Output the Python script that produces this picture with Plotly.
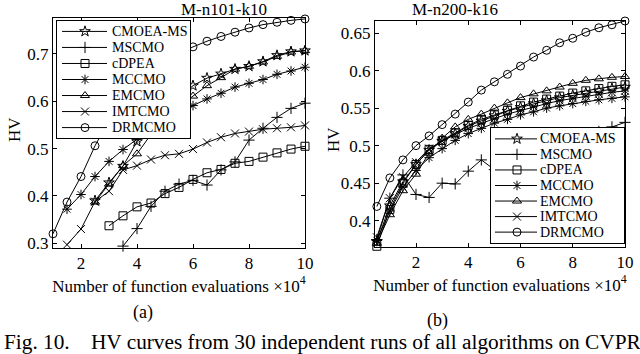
"""HV curves on two CVRP instances, two panels side by side."""

import plotly.graph_objects as go

ALGOS = ["CMOEA-MS", "MSCMO", "cDPEA", "MCCMO", "EMCMO", "IMTCMO", "DRMCMO"]
SYMBOLS = ["star-open", "cross-thin-open", "square-open", "asterisk-open",
           "triangle-up-open", "x-thin-open", "circle-open"]

# panel (a): M-n101-k10
x_a = [1.0, 1.5, 2.0, 2.5, 3.0, 3.5, 4.0, 4.5, 5.0, 5.5,
       6.0, 6.5, 7.0, 7.5, 8.0, 8.5, 9.0, 9.5, 10.0]
cmoea_ms_a = [None, None, None, 0.390, 0.428, 0.463, 0.515, 0.548, 0.578, 0.606,
              0.633, 0.649, 0.658, 0.668, 0.674, 0.684, 0.697, 0.705, 0.707]
mscmo_a = [None, None, None, None, None, 0.294, 0.331, 0.378, 0.410, 0.425,
           0.433, 0.423, 0.455, 0.472, 0.518, 0.543, 0.566, 0.585, 0.596]
cdpea_a = [None, None, None, None, 0.337, 0.358, 0.377, 0.385, 0.405, 0.418,
           0.435, 0.449, 0.456, 0.469, 0.473, 0.482, 0.491, 0.499, 0.505]
mccmo_a = [None, 0.372, 0.403, 0.441, 0.473, 0.498, 0.520, 0.540, 0.558, 0.575,
           0.591, 0.605, 0.617, 0.630, 0.638, 0.646, 0.657, 0.664, 0.672]
emcmo_a = [None, None, None, 0.387, 0.425, 0.464, 0.489, 0.530, 0.563, 0.590,
           0.611, 0.633, 0.650, 0.668, 0.674, 0.683, 0.695, 0.704, 0.707]
imtcmo_a = [None, 0.297, 0.330, 0.388, 0.410, 0.455, 0.464, 0.477, 0.486, 0.489,
            0.499, 0.513, 0.524, 0.532, 0.536, 0.541, 0.543, 0.545, 0.549]
drmcmo_a = [0.320, 0.387, 0.441, 0.506, 0.560, 0.600, 0.635, 0.660, 0.681, 0.700,
            0.715, 0.727, 0.737, 0.746, 0.755, 0.762, 0.767, 0.771, 0.774]

# panel (b): M-n200-k16
x_b = [0.5, 1.0, 1.5, 2.0, 2.5, 3.0, 3.5, 4.0, 4.5, 5.0,
       5.5, 6.0, 6.5, 7.0, 7.5, 8.0, 8.5, 9.0, 9.5, 10.0]
cmoea_ms_b = [0.372, 0.420, 0.452, 0.475, 0.494, 0.506, 0.516, 0.526, 0.533, 0.540,
              0.546, 0.551, 0.556, 0.560, 0.564, 0.567, 0.570, 0.573, 0.576, 0.578]
mscmo_b = [0.375, 0.430, 0.461, 0.435, 0.431, 0.450, 0.449, 0.466, 0.481, 0.468,
           0.474, 0.480, 0.487, 0.494, 0.500, 0.507, 0.513, 0.519, 0.525, 0.531]
cdpea_b = [0.366, 0.415, 0.450, 0.475, 0.495, 0.507, 0.517, 0.527, 0.535, 0.541,
           0.547, 0.553, 0.558, 0.562, 0.566, 0.570, 0.573, 0.576, 0.579, 0.581]
mccmo_b = [0.374, 0.413, 0.445, 0.467, 0.484, 0.496, 0.507, 0.516, 0.523, 0.530,
           0.535, 0.541, 0.545, 0.550, 0.553, 0.556, 0.559, 0.561, 0.563, 0.565]
emcmo_b = [0.370, 0.408, 0.440, 0.462, 0.490, 0.510, 0.525, 0.535, 0.542, 0.550,
           0.557, 0.564, 0.569, 0.573, 0.578, 0.583, 0.587, 0.589, 0.591, 0.592]
imtcmo_b = [0.378, 0.430, 0.458, 0.478, 0.496, 0.506, 0.515, 0.523, 0.530, 0.536,
            0.542, 0.547, 0.552, 0.556, 0.560, 0.563, 0.566, 0.569, 0.571, 0.573]
drmcmo_b = [0.419, 0.457, 0.481, 0.500, 0.513, 0.528, 0.542, 0.558, 0.574, 0.585,
            0.595, 0.606, 0.618, 0.627, 0.637, 0.643, 0.651, 0.657, 0.661, 0.666]

series_a = [cmoea_ms_a, mscmo_a, cdpea_a, mccmo_a, emcmo_a, imtcmo_a, drmcmo_a]
series_b = [cmoea_ms_b, mscmo_b, cdpea_b, mccmo_b, emcmo_b, imtcmo_b, drmcmo_b]

FONT = "Liberation Serif"
W, H = 640, 354
MSIZE = 8


def px_x(px):
    return px / W


def px_y(px):
    # pixel row from top -> paper fraction
    return (H - px) / H


fig = go.Figure()

for xs, series, xa, ya in [(x_a, series_a, "x", "y"), (x_b, series_b, "x2", "y2")]:
    for name, sym, ys in zip(ALGOS, SYMBOLS, series):
        fig.add_trace(go.Scatter(
            x=xs, y=ys, name=name, mode="lines+markers", showlegend=False,
            line=dict(color="black", width=1), cliponaxis=False,
            marker=dict(symbol=sym, size=MSIZE, color="black",
                        line=dict(width=1, color="black")),
            xaxis=xa, yaxis=ya,
        ))

# MATLAB-style legend boxes drawn on their own small axes (1 unit = 1 px across)
legend_boxes = [
    # xaxis, yaxis, line start, line end, marker x, text x
    ("x3", "y3", 5, 50, 28, 53),
    ("x4", "y4", 4, 46, 26, 47),
]
annotations = []
for xa, ya, l0, l1, mx, tx in legend_boxes:
    for row, (name, sym) in enumerate(zip(ALGOS, SYMBOLS)):
        fig.add_trace(go.Scatter(
            x=[l0, l1], y=[row, row], mode="lines", showlegend=False,
            line=dict(color="black", width=1), xaxis=xa, yaxis=ya, hoverinfo="skip",
        ))
        fig.add_trace(go.Scatter(
            x=[mx], y=[row], mode="markers", showlegend=False,
            marker=dict(symbol=sym, size=MSIZE, color="black",
                        line=dict(width=1, color="black")),
            xaxis=xa, yaxis=ya, hoverinfo="skip",
        ))
        annotations.append(dict(text=name, x=tx, y=row, xref=xa, yref=ya,
                                xanchor="left", yanchor="middle", showarrow=False,
                                font=dict(size=14)))

axis_common = dict(showline=True, linecolor="black", linewidth=1, mirror="ticks",
                   ticks="inside", ticklen=4, tickcolor="black", showgrid=False,
                   zeroline=False, automargin=False,
                   tickfont=dict(size=17, color="black"))
box_axis = dict(showline=True, linecolor="black", linewidth=1, mirror=True,
                showticklabels=False, ticks="", showgrid=False, zeroline=False,
                automargin=False, fixedrange=True)
xtitle = "Number of function evaluations ×10<sup>4</sup>"

annotations += [
    dict(text="M-n101-k10", x=px_x(179), y=px_y(9), xref="paper", yref="paper",
         yanchor="middle", showarrow=False, font=dict(size=17)),
    dict(text="M-n200-k16", x=px_x(500), y=px_y(10), xref="paper", yref="paper",
         yanchor="middle", showarrow=False, font=dict(size=17)),
    dict(text="HV", x=px_x(15), y=px_y(130), xref="paper", yref="paper", textangle=-90,
         xanchor="center", yanchor="middle", showarrow=False, font=dict(size=17)),
    dict(text="HV", x=px_x(333), y=px_y(140), xref="paper", yref="paper", textangle=-90,
         xanchor="center", yanchor="middle", showarrow=False, font=dict(size=17)),
    dict(text="(a)", x=px_x(131), y=px_y(312), xref="paper", yref="paper",
         yanchor="middle", showarrow=False, font=dict(size=18)),
    dict(text="(b)", x=px_x(450), y=px_y(320), xref="paper", yref="paper",
         yanchor="middle", showarrow=False, font=dict(size=18)),
    dict(text="Fig. 10.    HV curves from 30 independent runs of all algorithms on CVPR",
         x=px_x(2), y=px_y(342), xref="paper", yref="paper", xanchor="left",
         yanchor="middle", showarrow=False, font=dict(size=21.3)),
]

fig.update_layout(
    template="none",
    width=W, height=H, plot_bgcolor="white", paper_bgcolor="white",
    margin=dict(l=0, r=0, t=0, b=0),
    font=dict(family=FONT, color="black"),
    showlegend=False,
    xaxis=dict(domain=[px_x(53), px_x(305)], range=[1, 10],
               tickvals=[2, 4, 6, 8, 10], anchor="y",
               title=dict(text=xtitle, font=dict(size=17), standoff=4),
               **axis_common),
    yaxis=dict(domain=[px_y(248), px_y(18)], range=[0.29, 0.776],
               tickvals=[0.3, 0.4, 0.5, 0.6, 0.7], ticktext=["0.3", "0.4", "0.5", "0.6", "0.7"],
               anchor="x", **axis_common),
    xaxis2=dict(domain=[px_x(375), px_x(625)], range=[0.43, 10],
                tickvals=[2, 4, 6, 8, 10], anchor="y2",
                title=dict(text=xtitle, font=dict(size=17), standoff=4),
                **axis_common),
    yaxis2=dict(domain=[px_y(247), px_y(21)], range=[0.365, 0.666],
                tickvals=[0.4, 0.45, 0.5, 0.55, 0.6, 0.65],
                ticktext=["0.4", "0.45", "0.5", "0.55", "0.6", "0.65"],
                anchor="x2", **axis_common),
    xaxis3=dict(domain=[px_x(57), px_x(190)], range=[0, 133], anchor="y3", **box_axis),
    yaxis3=dict(domain=[px_y(138), px_y(21)], range=[6.65, -0.65], anchor="x3", **box_axis),
    xaxis4=dict(domain=[px_x(491), px_x(624)], range=[0, 133], anchor="y4", **box_axis),
    yaxis4=dict(domain=[px_y(243), px_y(128)], range=[6.7, -0.7], anchor="x4", **box_axis),
    annotations=annotations,
)

fig.write_html("out.html", config={"displayModeBar": False},
               post_script="document.body.style.margin='0px';")
